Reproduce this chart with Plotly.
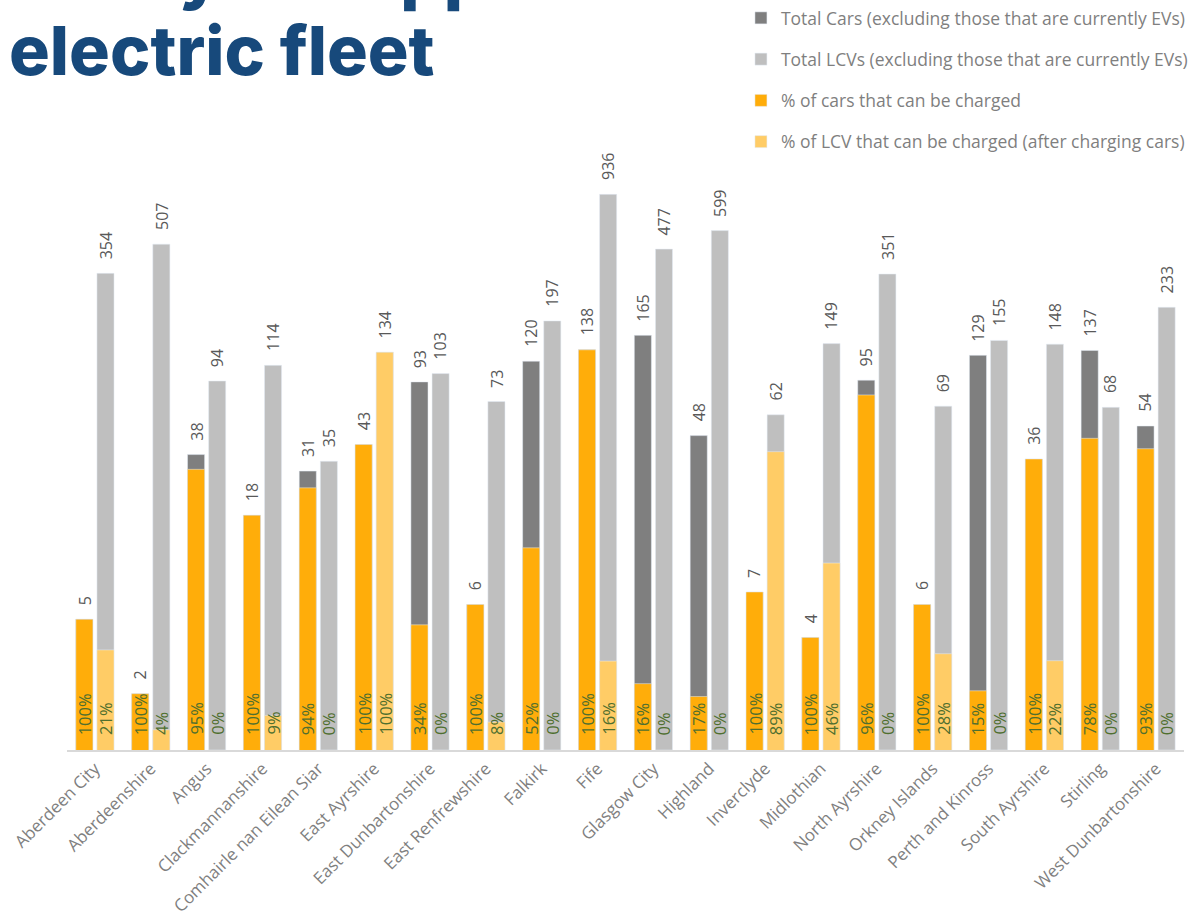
import math
import plotly.graph_objects as go

# Local authority areas
areas = [
    "Aberdeen City", "Aberdeenshire", "Angus", "Clackmannanshire",
    "Comhairle nan Eilean Siar", "East Ayrshire", "East Dunbartonshire",
    "East Renfrewshire", "Falkirk", "Fife", "Glasgow City", "Highland",
    "Inverclyde", "Midlothian", "North Ayrshire", "Orkney Islands",
    "Perth and Kinross", "South Ayrshire", "Stirling", "West Dunbartonshire",
]

# Fleet totals (excluding vehicles that are already EVs)
total_cars = [5, 2, 38, 18, 31, 43, 93, 6, 120, 138, 165, 48, 7, 4, 95, 6, 129, 36, 137, 54]
total_lcvs = [354, 507, 94, 114, 35, 134, 103, 73, 197, 936, 477, 599, 62, 149, 351, 69, 155, 148, 68, 233]

# Share of each fleet that can be charged (%)
pct_cars = [100, 100, 95, 100, 94, 100, 34, 100, 52, 100, 16, 17, 100, 100, 96, 100, 15, 100, 78, 93]
pct_lcvs = [21, 4, 0, 9, 0, 100, 0, 8, 0, 16, 0, 0, 89, 46, 0, 28, 0, 22, 0, 0]

C_CAR = "#7f7f7f"
C_LCV = "#bfbfbf"
C_CAR_PCT = "#ffad0a"
C_LCV_PCT = "#ffcc66"
C_LABEL = "#595959"
C_PCT_LABEL = "#4f6f2f"
C_TITLE = "#17497b"
FONT = "Open Sans"

BAR_W = 0.306
OFF_CAR = -0.342
OFF_LCV = 0.036
CTR_CAR = OFF_CAR + BAR_W / 2
CTR_LCV = OFF_LCV + BAR_W / 2

x = list(range(len(areas)))

# The value axis is logarithmic; the charged share is drawn as that fraction
# of each bar's (log-scaled) height.
cars_charged = [t ** (p / 100) for t, p in zip(total_cars, pct_cars)]
lcvs_charged = [t ** (p / 100) for t, p in zip(total_lcvs, pct_lcvs)]

fig = go.Figure()
fig.add_trace(go.Bar(x=x, y=total_cars, name="Total Cars (excluding those that are currently EVs)",
                     marker_color=C_CAR, width=BAR_W, offset=OFF_CAR,
                     legendgroup="a", legendrank=1))
fig.add_trace(go.Bar(x=x, y=cars_charged, name="% of cars that can be charged",
                     marker_color=C_CAR_PCT, width=BAR_W, offset=OFF_CAR,
                     legendgroup="c", legendrank=3))
fig.add_trace(go.Bar(x=x, y=total_lcvs, name="Total LCVs (excluding those that are currently EVs)",
                     marker_color=C_LCV, width=BAR_W, offset=OFF_LCV,
                     legendgroup="b", legendrank=2))
fig.add_trace(go.Bar(x=x, y=lcvs_charged, name="% of LCV that can be charged (after charging cars)",
                     marker_color=C_LCV_PCT, width=BAR_W, offset=OFF_LCV,
                     legendgroup="d", legendrank=4))

annotations = []
for i in x:
    for ctr, tot, pct in ((CTR_CAR, total_cars[i], pct_cars[i]),
                          (CTR_LCV, total_lcvs[i], pct_lcvs[i])):
        annotations.append(dict(
            x=i + ctr, y=math.log10(tot), xref="x", yref="y",
            text=str(tot), showarrow=False, textangle=-90,
            xanchor="center", yanchor="bottom", yshift=12,
            font=dict(family=FONT, size=16, color=C_LABEL)))
        annotations.append(dict(
            x=i + ctr, y=0, xref="x", yref="y",
            text=f"{pct}%", showarrow=False, textangle=-90,
            xanchor="center", yanchor="bottom", yshift=13,
            font=dict(family=FONT, size=16.5, color=C_PCT_LABEL)))

# Heading (its first line runs off the top of the page)
annotations.append(dict(
    x=0, y=1.319, xref="paper", yref="paper", xshift=-60,
    text="Ready to support an", showarrow=False,
    xanchor="left", yanchor="middle",
    font=dict(family="Inter", size=68, color=C_TITLE, weight=800)))
annotations.append(dict(
    x=0, y=1.187, xref="paper", yref="paper", xshift=-60,
    text="electric fleet", showarrow=False,
    xanchor="left", yanchor="middle",
    font=dict(family="Inter", size=68, color=C_TITLE, weight=800)))

fig.update_layout(
    width=1197, height=924,
    margin=dict(l=67, r=13, t=160, b=174, autoexpand=False),
    paper_bgcolor="white", plot_bgcolor="white",
    barmode="overlay",
    font=dict(family=FONT, color="#7f7f7f"),
    legend=dict(
        x=0.619, y=1.0, xref="container", yref="container",
        xanchor="left", yanchor="top",
        font=dict(family=FONT, size=17.5, color="#7f7f7f"),
        tracegroupgap=15.5, itemwidth=30, bgcolor="rgba(0,0,0,0)",
        traceorder="grouped"),
    annotations=annotations,
    xaxis=dict(
        range=[-0.5, len(areas) - 0.5],
        tickmode="array", tickvals=x, ticktext=areas,
        tickangle=-45, ticks="", showgrid=False, zeroline=False,
        showline=True, linecolor="#d9d9d9", linewidth=2,
        tickfont=dict(family=FONT, size=17, color="#7f7f7f")),
    yaxis=dict(
        type="log", range=[0, 3.155],
        showticklabels=False, showgrid=False, zeroline=False,
        showline=False, ticks=""),
)

fig.write_html("out.html")
